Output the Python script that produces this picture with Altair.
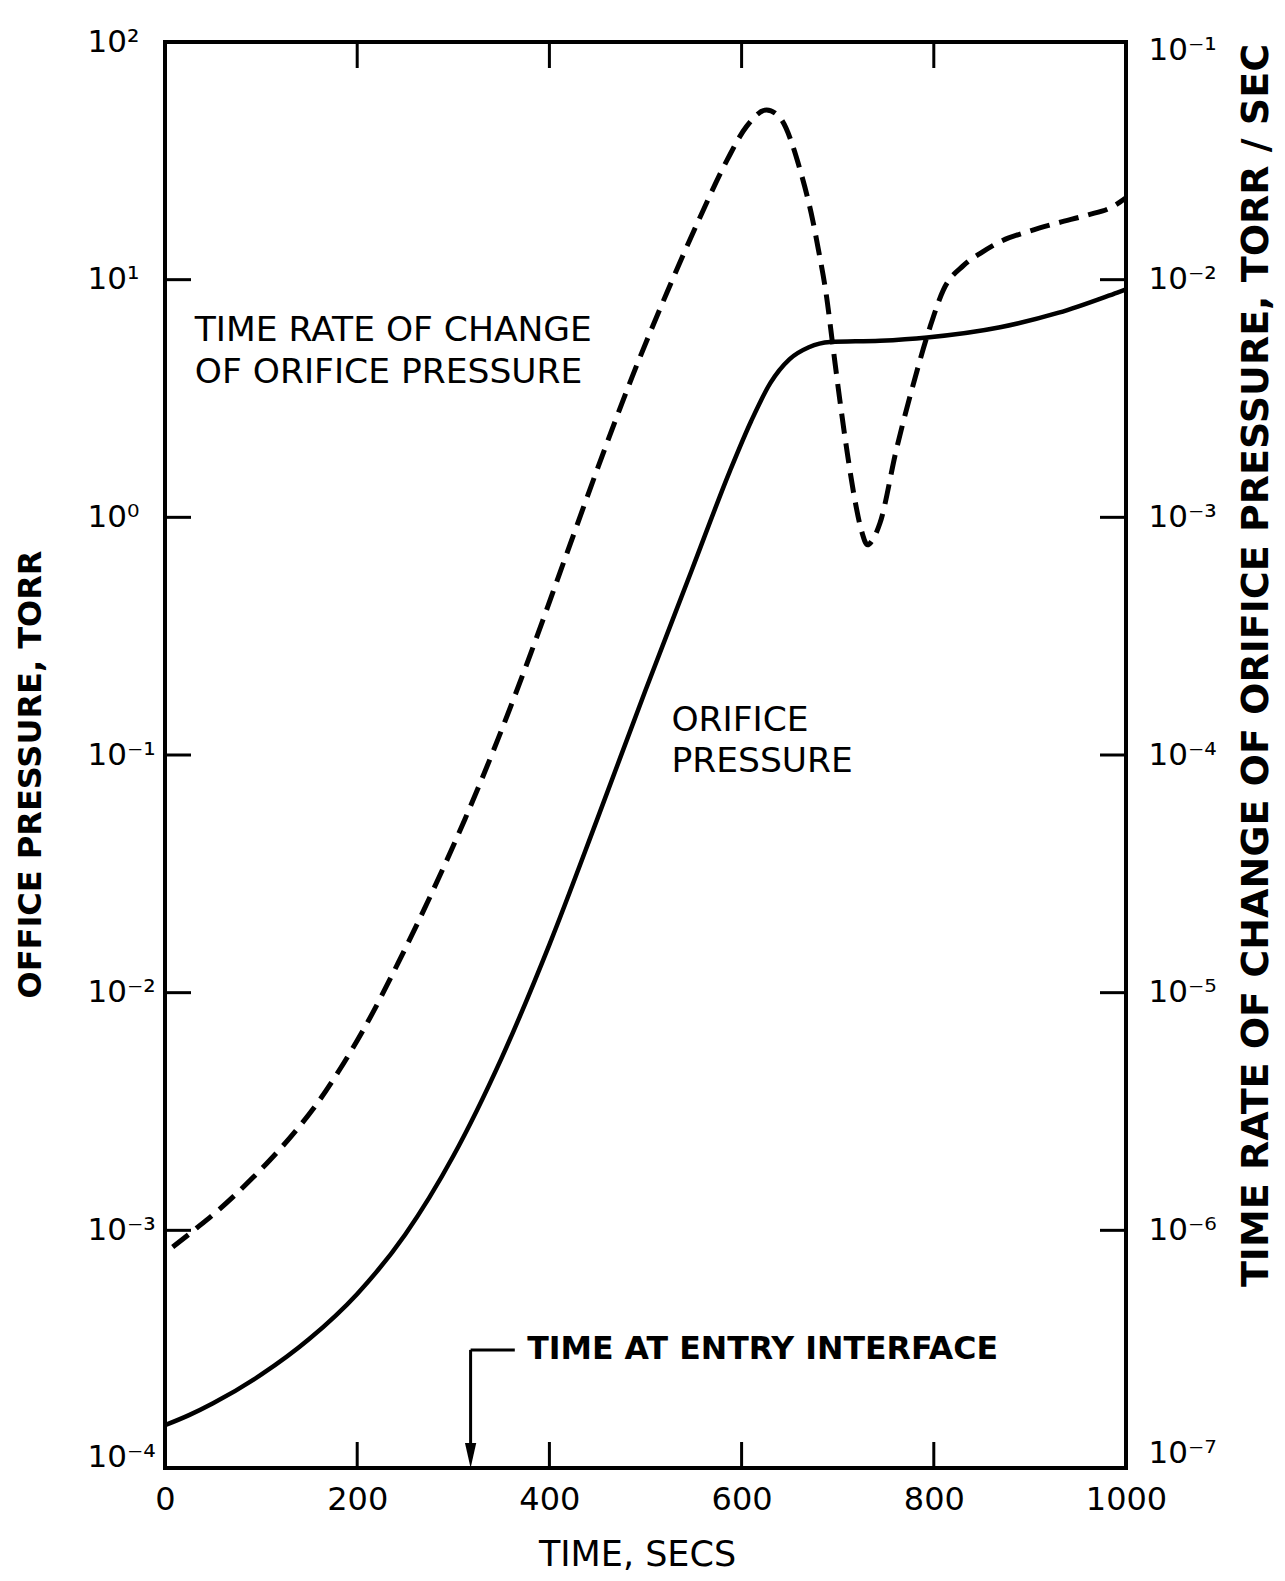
import json
import altair as alt
import pandas as pd

# ---------------- data ----------------
# Orifice pressure (torr) - left axis, solid curve
time_p = [0, 25, 50, 100, 150, 200, 250, 300, 350, 400, 450, 500, 548, 588,
          610, 630, 650, 670, 692, 744, 793, 869, 930, 991, 1000]
pressure = [1.514e-4, 1.669e-4, 1.873e-4, 2.469e-4, 3.487e-4, 5.401e-4, 9.605e-4,
            2.054e-3, 5.279e-3, 1.594e-2, 5.401e-2, 0.1873, 0.5976, 1.572, 2.544,
            3.678, 4.63, 5.195, 5.465, 5.534, 5.715, 6.31, 7.26, 8.83, 9.10]

# Time rate of change of orifice pressure (torr/sec) - right axis, dashed curve
time_r = [8, 33, 54, 92, 109, 140, 156, 180, 208, 243, 277, 312, 347, 381, 416,
          451, 486, 522, 557, 585, 605, 626, 640, 661, 674, 680, 688, 695, 702,
          710, 718, 725, 731, 737, 744, 761, 779, 796, 810, 831, 850, 869, 900,
          930, 960, 985, 1000]
rate = [8.51e-7, 1.023e-6, 1.202e-6, 1.675e-6, 1.972e-6, 2.742e-6, 3.319e-6,
        4.624e-6, 7.161e-6, 1.343e-5, 2.594e-5, 5.358e-5, 1.180e-4, 2.704e-4,
        6.668e-4, 1.641e-3, 3.89e-3, 8.77e-3, 1.841e-2, 3.192e-2, 4.406e-2,
        5.176e-2, 4.80e-2, 2.884e-2, 1.778e-2, 1.334e-2, 8.71e-3, 5.248e-3,
        3.162e-3, 1.862e-3, 1.175e-3, 8.71e-4, 7.66e-4, 8.13e-4, 9.46e-4,
        1.923e-3, 3.673e-3, 6.31e-3, 9.06e-3, 1.148e-2, 1.303e-2, 1.445e-2,
        1.603e-2, 1.738e-2, 1.871e-2, 2.018e-2, 2.213e-2]

x_tick_vals = [0, 200, 400, 600, 800, 1000]
x_inner_ticks = [200, 400, 600, 800]
left_tick_vals = [1e-4, 1e-3, 1e-2, 1e-1, 1e0, 1e1, 1e2]
left_inner_ticks = [1e1, 1e0, 1e-1, 1e-2, 1e-3]
right_tick_vals = [1e-7, 1e-6, 1e-5, 1e-4, 1e-3, 1e-2, 1e-1]
right_inner_ticks = [1e-2, 1e-3, 1e-4, 1e-5, 1e-6]
left_labels = ["10⁻⁴", "10⁻³", "10⁻²", "10⁻¹", "10⁰", "10¹", "10²"]
right_labels = ["10⁻⁷", "10⁻⁶", "10⁻⁵", "10⁻⁴", "10⁻³", "10⁻²", "10⁻¹"]

entry_time = 318

# ---------------- chart ----------------
W, H = 961, 1426
FONT = "DejaVu Sans"
TICK = 26

x_scale = alt.Scale(domain=[0, 1000], nice=False, zero=False)
yl_scale = alt.Scale(type="log", domain=[1e-4, 1e2], nice=False)
yr_scale = alt.Scale(type="log", domain=[1e-7, 1e-1], nice=False)

left_expr = json.dumps(left_labels, ensure_ascii=False) + "[round(log(datum.value)/LN10)+4]"
right_expr = json.dumps(right_labels, ensure_ascii=False) + "[round(log(datum.value)/LN10)+7]"

df_p = pd.DataFrame({"t": time_p, "p": pressure})
df_r = pd.DataFrame({"t": time_r, "r": rate})
df_xt = pd.DataFrame({"t": x_inner_ticks})
df_lt = pd.DataFrame({"v": left_inner_ticks})
df_rt = pd.DataFrame({"v": right_inner_ticks})

x_axis = alt.Axis(values=x_tick_vals, format="d", ticks=False, domain=False,
                  grid=False, labelFontSize=32, labelPadding=16, labelFont=FONT,
                  labelColor="black", labelFlush=False, labelOverlap=False,
                  title="TIME, SECS", titleFontSize=35, titleFontWeight="normal",
                  titleFont=FONT, titleColor="black", titleX=472, titleY=86,
                  titleAlign="center", titleBaseline="middle")

yl_axis = alt.Axis(orient="left", values=left_tick_vals, ticks=False, domain=False,
                   grid=False, labelExpr=left_expr, labelFontSize=31,
                   labelAlign="left", labelPadding=78, labelFont=FONT,
                   labelColor="black", labelOverlap=False, labelFlush=False,
                   labelOffset={"condition": {"test": "datum.value < 2e-4",
                                              "value": -11}, "value": 0},
                   title="OFFICE PRESSURE, TORR", titleFontSize=32,
                   titleFontWeight="bold", titleFont=FONT, titleColor="black",
                   titleX=-135, titleY=732, titleAngle=270, titleAlign="center",
                   titleBaseline="middle")

yr_axis = alt.Axis(orient="right", values=right_tick_vals, ticks=False, domain=False,
                   grid=False, labelExpr=right_expr, labelFontSize=31,
                   labelPadding=22, labelFont=FONT, labelColor="black",
                   labelOverlap=False, labelFlush=False,
                   labelOffset={"condition": [
                       {"test": "datum.value < 2e-7", "value": -15},
                       {"test": "datum.value > 0.05", "value": 8}], "value": 0},
                   title="TIME RATE OF CHANGE OF ORIFICE PRESSURE, TORR / SEC",
                   titleFontSize=38, titleFontWeight="bold", titleFont=FONT,
                   titleColor="black", titleX=130, titleY=623, titleAngle=270,
                   titleAlign="center", titleBaseline="middle")


def xd(v):
    # shares the x scale; no axis override so the main x axis is kept
    return alt.XDatum(v, scale=x_scale)


def yd(v):
    return alt.YDatum(v, scale=yl_scale, axis=None)


solid = alt.Chart(df_p).mark_line(color="black", strokeWidth=4.5,
                                  interpolate="monotone").encode(
    x=alt.X("t:Q", scale=x_scale, axis=x_axis),
    y=alt.Y("p:Q", scale=yl_scale, axis=yl_axis),
)

dashed = alt.Chart(df_r).mark_line(color="black", strokeWidth=5,
                                   strokeDash=[20, 10],
                                   interpolate="monotone").encode(
    x=alt.X("t:Q", scale=x_scale),
    y=alt.Y("r:Q", scale=yr_scale, axis=yr_axis),
)

left_ticks = alt.Chart(df_lt).mark_rule(color="black", strokeWidth=3).encode(
    y=alt.Y("v:Q", scale=yl_scale, axis=None),
    x=alt.value(0), x2=alt.value(TICK),
)
right_ticks = alt.Chart(df_rt).mark_rule(color="black", strokeWidth=3).encode(
    y=alt.Y("v:Q", scale=yr_scale, axis=None),
    x=alt.value(W), x2=alt.value(W - TICK),
)
top_ticks = alt.Chart(df_xt).mark_rule(color="black", strokeWidth=3).encode(
    x=alt.X("t:Q", scale=x_scale),
    y=alt.value(0), y2=alt.value(TICK),
)
bottom_ticks = alt.Chart(df_xt).mark_rule(color="black", strokeWidth=3).encode(
    x=alt.X("t:Q", scale=x_scale),
    y=alt.value(H), y2=alt.value(H - TICK),
)

txt = dict(font=FONT, fontSize=34.5, align="left", baseline="middle", color="black")
t1 = alt.Chart().mark_text(text="TIME RATE OF CHANGE", **txt).encode(
    x=xd(31), y=yd(6.08))
t2 = alt.Chart().mark_text(text="OF ORIFICE PRESSURE", **txt).encode(
    x=xd(31), y=yd(4.05))
t3 = alt.Chart().mark_text(text="ORIFICE", **txt).encode(
    x=xd(527), y=yd(0.139))
t4 = alt.Chart().mark_text(text="PRESSURE", **txt).encode(
    x=xd(527), y=yd(0.0935))
t5 = alt.Chart().mark_text(text="TIME AT ENTRY INTERFACE", font=FONT, fontSize=31.6,
                           fontWeight="bold", align="left", baseline="middle",
                           color="black").encode(
    x=xd(377), y=yd(3.14e-4))

arrow_v = alt.Chart().mark_rule(color="black", strokeWidth=3).encode(
    x=xd(entry_time), y=yd(3.14e-4), y2=alt.datum(1.2e-4))
arrow_h = alt.Chart().mark_rule(color="black", strokeWidth=3).encode(
    x=xd(entry_time), x2=alt.datum(364), y=yd(3.14e-4))
arrow_head = alt.Chart().mark_point(
    shape="M-0.45,-1L0.45,-1L0,1Z", filled=True, color="black", opacity=1,
    size=625, strokeWidth=0).encode(
    x=xd(entry_time), y=yd(1.129e-4))

chart = (
    alt.layer(solid, dashed, left_ticks, right_ticks, top_ticks, bottom_ticks,
              t1, t2, t3, t4, t5, arrow_v, arrow_h, arrow_head)
    .resolve_scale(y="independent")
    .properties(width=W, height=H,
                padding={"left": 157, "top": 34, "right": 151, "bottom": 105},
                autosize=alt.AutoSizeParams(type="none"),
                background="white")
    .configure(font=FONT)
    .configure_view(stroke="black", strokeWidth=4)
)

chart.save("out.html", embed_options={"renderer": "svg", "actions": False})
